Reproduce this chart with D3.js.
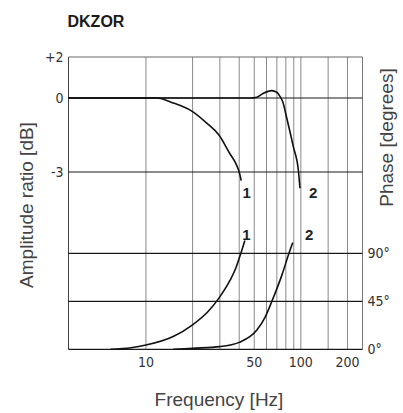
<!DOCTYPE html>
<html>
<head>
<meta charset="utf-8">
<script src="https://cdn.jsdelivr.net/npm/d3@7"></script>
<style>
  body { margin: 0; background: #fff; }
  .tick-label { font-family: "Liberation Sans Narrow", "DejaVu Sans Condensed", sans-serif; font-stretch: condensed; font-size: 14px; fill: #333; }
  .axis-title { font-family: "Liberation Sans", Arial, sans-serif; font-size: 19px; fill: #444; }
  .curve-label { font-family: "Liberation Sans", Arial, sans-serif; font-size: 15px; font-weight: bold; fill: #222; }
</style>
</head>
<body>
<svg id="chart" width="403" height="413"></svg>
<script>
// frequency axis (Hz)
var freqDomain = [3.1623, 250];
var freqGrid = [10, 20, 30, 40, 50, 60, 70, 80, 90, 100, 150, 200];
var freqLabels = [10, 50, 100, 200];

// amplitude axis (dB) and phase axis (degrees)
var dbTicks = [2, 0, -3];
var dbTickLabels = ["+2", "0", "-3"];
var phaseTicks = [0, 45, 90];

// curves: [frequency, value]
var amp1 = [[3.1623, 0], [11.7, 0], [15, -0.2], [20, -0.55], [25, -1.05], [29.6, -1.5],
            [34.9, -2.27], [38, -2.65], [40, -3.0], [41.2, -3.35]];
var amp2 = [[3.1623, 0], [47, 0], [52, 0.04], [57, 0.22], [64.8, 0.36], [69.9, 0.28], [73.3, 0.08],
            [76.4, -0.15], [81, -0.8], [89.4, -1.97], [96.3, -2.92], [98.7, -3.66]];
var phase1 = [[5.9, 0], [8, 1.5], [10, 4], [15, 12], [20, 23], [25, 35], [29.6, 48],
              [35, 65], [38, 76], [41, 90], [43.5, 102]];
var phase2 = [[15, 0], [20, 1], [30, 2.5], [40, 6.5], [52, 18], [58.7, 30], [65, 45],
              [75.6, 70], [83.8, 90], [88.6, 100]];

// curve number labels: [frequency, value, text]
var ampLabels = [[44.7, -3.85, "1"], [120, -3.85, "2"]];
var phaseLabels = [[44.6, 107, "1"], [113, 107, "2"]];

var margin = {top: 57, left: 68.5, right: 362.5, bottom: 349.3};

var svg = d3.select("#chart");

var x = d3.scaleLog()
    .domain(freqDomain)
    .range([margin.left, margin.right]);

// amplitude scale is not linear on the original sheet: +2..0 is tighter than 0..-3
var yAmp = d3.scaleLinear()
    .domain([2, 0, -3])
    .range([margin.top, 98, 172]);

var yPhase = d3.scaleLinear()
    .domain([0, 90])
    .range([margin.bottom, 253.3]);

// vertical grid
svg.append("g").selectAll("line")
    .data(freqGrid)
  .enter().append("line")
    .attr("x1", d => x(d)).attr("x2", d => x(d))
    .attr("y1", margin.top).attr("y2", margin.bottom)
    .attr("stroke", "#8a8a8a")
    .attr("stroke-width", 1);

// frame
svg.append("line")
    .attr("x1", margin.left).attr("x2", margin.right)
    .attr("y1", margin.top).attr("y2", margin.top)
    .attr("stroke", "#666");
svg.append("line")
    .attr("x1", margin.right).attr("x2", margin.right)
    .attr("y1", margin.top).attr("y2", margin.bottom)
    .attr("stroke", "#777");
svg.append("line")
    .attr("x1", margin.left).attr("x2", margin.left)
    .attr("y1", margin.top).attr("y2", margin.bottom)
    .attr("stroke", "#444");

// horizontal grid (amplitude)
svg.append("g").selectAll("line")
    .data(dbTicks.slice(1))
  .enter().append("line")
    .attr("x1", margin.left).attr("x2", margin.right)
    .attr("y1", d => yAmp(d)).attr("y2", d => yAmp(d))
    .attr("stroke", "#1a1a1a")
    .attr("stroke-width", 1.2);

// horizontal grid (phase)
svg.append("g").selectAll("line")
    .data(phaseTicks)
  .enter().append("line")
    .attr("x1", margin.left).attr("x2", margin.right)
    .attr("y1", d => yPhase(d)).attr("y2", d => yPhase(d))
    .attr("stroke", "#1a1a1a")
    .attr("stroke-width", 1.2);

// tick labels
svg.append("g").selectAll("text")
    .data(dbTicks)
  .enter().append("text")
    .attr("class", "tick-label")
    .attr("x", margin.left - 5)
    .attr("y", d => yAmp(d))
    .attr("dy", "0.35em")
    .attr("text-anchor", "end")
    .text((d, i) => dbTickLabels[i]);

svg.append("g").selectAll("text")
    .data(phaseTicks)
  .enter().append("text")
    .attr("class", "tick-label")
    .attr("x", margin.right + 5)
    .attr("y", d => yPhase(d))
    .attr("dy", "0.35em")
    .text(d => d + "°");

svg.append("g").selectAll("text")
    .data(freqLabels)
  .enter().append("text")
    .attr("class", "tick-label")
    .attr("x", d => x(d))
    .attr("y", margin.bottom + 18)
    .attr("text-anchor", "middle")
    .text(d => d);

// curves
var ampLine = d3.line()
    .x(d => x(d[0]))
    .y(d => yAmp(d[1]))
    .curve(d3.curveMonotoneX);
var phaseLine = d3.line()
    .x(d => x(d[0]))
    .y(d => yPhase(d[1]))
    .curve(d3.curveMonotoneX);

[amp1, amp2].forEach(function(s) {
  svg.append("path")
      .attr("d", ampLine(s))
      .attr("fill", "none")
      .attr("stroke", "#111")
      .attr("stroke-width", 1.6);
});
[phase1, phase2].forEach(function(s) {
  svg.append("path")
      .attr("d", phaseLine(s))
      .attr("fill", "none")
      .attr("stroke", "#111")
      .attr("stroke-width", 1.6);
});

// curve labels
svg.append("g").selectAll("text")
    .data(ampLabels)
  .enter().append("text")
    .attr("class", "curve-label")
    .attr("x", d => x(d[0]))
    .attr("y", d => yAmp(d[1]))
    .attr("dy", "0.35em")
    .attr("text-anchor", "middle")
    .text(d => d[2]);
svg.append("g").selectAll("text")
    .data(phaseLabels)
  .enter().append("text")
    .attr("class", "curve-label")
    .attr("x", d => x(d[0]))
    .attr("y", d => yPhase(d[1]))
    .attr("dy", "0.35em")
    .attr("text-anchor", "middle")
    .text(d => d[2]);

// titles
svg.append("text")
    .attr("x", 67.5)
    .attr("y", 27)
    .attr("font-family", "Liberation Sans, Arial, sans-serif")
    .attr("font-size", 16)
    .attr("font-weight", "bold")
    .attr("fill", "#1a1a1a")
    .text("DKZOR");

svg.append("text")
    .attr("class", "axis-title")
    .attr("x", 219)
    .attr("y", 406)
    .attr("text-anchor", "middle")
    .text("Frequency [Hz]");

svg.append("text")
    .attr("class", "axis-title")
    .attr("transform", "translate(33,205) rotate(-90)")
    .attr("text-anchor", "middle")
    .text("Amplitude ratio [dB]");

svg.append("text")
    .attr("class", "axis-title")
    .attr("transform", "translate(393,137.5) rotate(-90)")
    .attr("text-anchor", "middle")
    .text("Phase [degrees]");
</script>
</body>
</html>
